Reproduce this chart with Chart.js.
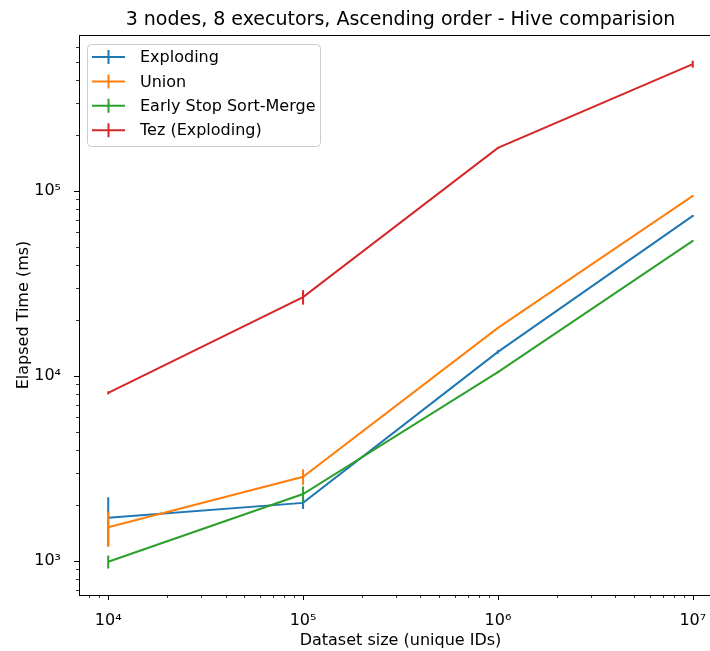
<!DOCTYPE html>
<html>
<head>
<meta charset="utf-8">
<script src="https://cdn.jsdelivr.net/npm/chart.js@4/dist/chart.umd.min.js"></script>
<style>
  html, body { margin: 0; padding: 0; background: #fff; overflow: hidden; }
  #wrap { width: 730px; height: 651px; }
</style>
</head>
<body>
<div id="wrap"><canvas id="chart" width="730" height="651"></canvas></div>
<script>
// Chart data
const datasetSizes = [1e4, 1e5, 1e6, 1e7];

const seriesNames = ['Exploding', 'Union', 'Early Stop Sort-Merge', 'Tez (Exploding)'];
const seriesColors = ['#1f77b4', '#ff7f0e', '#2ca02c', '#d62728'];

const explodingMs = [1710, 2060, 13500, 73300];
const explodingErr = [500, 150, 300, 800];
const unionMs = [1520, 2850, 18200, 94000];
const unionErr = [330, 280, 200, 1000];
const earlyStopMs = [990, 2300, 10500, 53700];
const earlyStopErr = [80, 230, 150, 500];
const tezMs = [8100, 26700, 171000, 485000];
const tezErr = [150, 2400, 2000, 21000];

const seriesValues = [explodingMs, unionMs, earlyStopMs, tezMs];
const seriesErrors = [explodingErr, unionErr, earlyStopErr, tezErr];

// Axis ticks
const xMajorTicks = [1e4, 1e5, 1e6, 1e7];
const xTickLabels = ['10\u2074', '10\u2075', '10\u2076', '10\u2077'];
const yMajorTicks = [1e3, 1e4, 1e5];
const yTickLabels = ['10\u00b3', '10\u2074', '10\u2075'];

const xRange = [Math.pow(10, 3.85), Math.pow(10, 7.15)];
const yRange = [Math.pow(10, 2.816), Math.pow(10, 5.843)];

const titleText = '3 nodes, 8 executors, Ascending order - Hive comparision';
const xTitle = 'Dataset size (unique IDs)';
const yTitle = 'Elapsed Time (ms)';

const FONT = '"DejaVu Sans", sans-serif';

// minor + major tick values inside a range (log axis)
function logTicks(min, max) {
    const out = [];
    for (let e = Math.floor(Math.log10(min)); e <= Math.ceil(Math.log10(max)); e++) {
        for (let m = 1; m <= 9; m++) {
            const v = m * Math.pow(10, e);
            if (v >= min && v <= max) out.push({ value: v, major: m === 1 });
        }
    }
    return out;
}

function tickLabel(majors, labels) {
    return function (value) {
        const i = majors.findIndex(m => Math.abs(m - value) / m < 1e-6);
        return i >= 0 ? labels[i] : '';
    };
}

const datasets = seriesNames.map((name, i) => ({
    label: name,
    data: datasetSizes.map((x, j) => ({ x: x, y: seriesValues[i][j] })),
    borderColor: seriesColors[i],
    backgroundColor: seriesColors[i],
    borderWidth: 2,
    pointRadius: 0,
    tension: 0,
    order: seriesNames.length - i,
    errors: seriesErrors[i]
}));

// Matplotlib-like decorations: frame, tick marks, titles, error bars, legend
const mplDecor = {
    id: 'mplDecor',
    afterDatasetDraw(chart, args) {
        const ds = chart.data.datasets[args.index];
        const xs = chart.scales.x, ys = chart.scales.y;
        const ctx = chart.ctx;
        ctx.save();
        ctx.strokeStyle = ds.borderColor;
        ctx.lineWidth = 2;
        ds.data.forEach((p, j) => {
            const e = ds.errors[j];
            const px = xs.getPixelForValue(p.x);
            ctx.beginPath();
            ctx.moveTo(px, ys.getPixelForValue(p.y - e));
            ctx.lineTo(px, ys.getPixelForValue(p.y + e));
            ctx.stroke();
        });
        ctx.restore();
    },
    afterDraw(chart) {
        const ctx = chart.ctx;
        const a = chart.chartArea;
        const xs = chart.scales.x, ys = chart.scales.y;
        ctx.save();

        // frame
        ctx.strokeStyle = '#000';
        ctx.lineWidth = 1;
        ctx.strokeRect(Math.round(a.left) + 0.5, Math.round(a.top) + 0.5,
            Math.round(a.right - a.left), Math.round(a.bottom - a.top));

        // tick marks
        ctx.strokeStyle = '#000';
        xs.ticks.forEach(t => {
            const px = Math.round(xs.getPixelForValue(t.value)) + 0.5;
            const len = t.major ? 5 : 3;
            ctx.lineWidth = t.major ? 1 : 0.8;
            ctx.beginPath();
            ctx.moveTo(px, a.bottom);
            ctx.lineTo(px, a.bottom + len);
            ctx.stroke();
        });
        ys.ticks.forEach(t => {
            const py = Math.round(ys.getPixelForValue(t.value)) + 0.5;
            const len = t.major ? 5 : 3;
            ctx.lineWidth = t.major ? 1 : 0.8;
            ctx.beginPath();
            ctx.moveTo(a.left, py);
            ctx.lineTo(a.left - len, py);
            ctx.stroke();
        });

        // titles
        const cx = (a.left + a.right) / 2;
        ctx.fillStyle = '#000';
        ctx.textAlign = 'center';
        ctx.textBaseline = 'alphabetic';
        ctx.font = '19px ' + FONT;
        ctx.fillText(titleText, cx, 25);

        ctx.font = '16px ' + FONT;
        ctx.textBaseline = 'middle';
        ctx.fillText(xTitle, cx, 641);

        ctx.save();
        ctx.translate(24, (a.top + a.bottom) / 2);
        ctx.rotate(-Math.PI / 2);
        ctx.fillText(yTitle, 0, 0);
        ctx.restore();

        // legend
        const lx = a.left + 8, ly = a.top + 9, lw = 233, lh = 102;
        ctx.beginPath();
        ctx.roundRect(lx + 0.5, ly + 0.5, lw, lh, 4);
        ctx.fillStyle = 'rgba(255,255,255,0.8)';
        ctx.fill();
        ctx.strokeStyle = '#cccccc';
        ctx.lineWidth = 1;
        ctx.stroke();

        ctx.font = '16px ' + FONT;
        ctx.textAlign = 'left';
        ctx.textBaseline = 'middle';
        chart.data.datasets.forEach((ds, i) => {
            const ry = ly + 13 + i * 24.4;
            ctx.strokeStyle = ds.borderColor;
            ctx.lineWidth = 2;
            ctx.beginPath();
            ctx.moveTo(lx + 5, ry);
            ctx.lineTo(lx + 38, ry);
            ctx.moveTo(lx + 21.5, ry - 7);
            ctx.lineTo(lx + 21.5, ry + 7);
            ctx.stroke();
            ctx.fillStyle = '#000';
            ctx.fillText(ds.label, lx + 53, ry + 1);
        });

        ctx.restore();
    }
};

new Chart(document.getElementById('chart'), {
    type: 'line',
    data: { datasets: datasets },
    plugins: [mplDecor],
    options: {
        responsive: false,
        animation: false,
        devicePixelRatio: 1,
        layout: { padding: { top: 35, right: 8, left: 0, bottom: 0 } },
        plugins: {
            legend: { display: false },
            tooltip: { enabled: false },
            title: { display: false }
        },
        scales: {
            x: {
                type: 'logarithmic',
                min: xRange[0],
                max: xRange[1],
                grid: { display: false },
                border: { display: false },
                afterBuildTicks: s => { s.ticks = logTicks(xRange[0], xRange[1]); },
                afterFit: s => { s.height = 56; },
                ticks: {
                    autoSkip: false,
                    maxRotation: 0,
                    padding: 8,
                    color: '#000',
                    font: { family: FONT, size: 16 },
                    callback: tickLabel(xMajorTicks, xTickLabels)
                }
            },
            y: {
                type: 'logarithmic',
                min: yRange[0],
                max: yRange[1],
                grid: { display: false },
                border: { display: false },
                afterBuildTicks: s => { s.ticks = logTicks(yRange[0], yRange[1]); },
                afterFit: s => { s.width = 79; },
                ticks: {
                    autoSkip: false,
                    padding: 10,
                    color: '#000',
                    font: { family: FONT, size: 16 },
                    callback: tickLabel(yMajorTicks, yTickLabels)
                }
            }
        }
    }
});
</script>
</body>
</html>
